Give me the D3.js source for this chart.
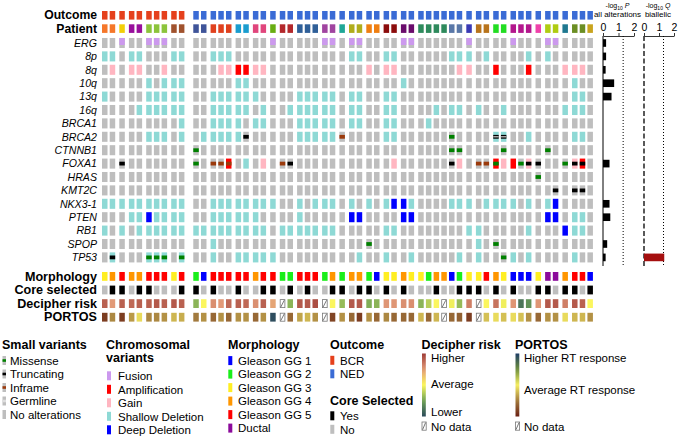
<!DOCTYPE html>
<html><head><meta charset="utf-8">
<script src="https://cdn.jsdelivr.net/npm/d3@7"></script>
<style>body{margin:0;background:#fff} text{font-family:"Liberation Sans",Arial,Helvetica,sans-serif}</style>
</head><body><svg id="c" width="680" height="440"></svg>
<script>
// ---------------- DATA ----------------
const genes = ["ERG","8p","8q","10q","13q","16q","BRCA1","BRCA2","CTNNB1","FOXA1","HRAS","KMT2C","NKX3-1","PTEN","RB1","SPOP","TP53"];
const patientGroupSizes = [2,1,2,3,2, 2,3,2,2,1,2,3,2,1,2,2,2,2,4,2,1,2,2,3,1,2,1,2,1];
const patientOutcome = ["BCR","BCR","BCR","BCR","BCR","NED","NED","NED","NED","NED","NED","NED","NED","NED","NED","NED","NED","NED","NED","NED","NED","NED","NED","NED","NED","NED","NED","NED","NED"];
const patientColors = ["#f5772a","#f2cf08","#980f9c","#8cc43c","#a0522d","#3f5499","#e0411e","#1a9dcf","#e0457c","#68ad12","#b3282b","#2f5f98","#a044a0","#1fa797","#b0ad1c","#ef7f12","#8b0c0c","#6a0c6c","#2e8a5c","#5a78a8","#3a3ab4","#b8741c","#22dd22","#b3178d","#ef42aa","#b0cc12","#1f7890","#6b8e23","#c9a41e"];
// patients drawn adjacent to the previous one (no separating gap)
const joinedPatients = [19, 28];
// CNA / fusion per gene ('.' none, s shallow del, d deep del, a amplification, n gain, f fusion); spaces separate patients
const cnaRows = [
 ".. f .. fff .. .. ... .. .. f .. ... ff . ff .. .. ff .... .. f .. .. f.. . ff . .. .",
 "ss . ss ... ss .. sss .. .. . .. ... .. . ss .. ss .. .... ss s .s .. ..s . s. . .. .",
 ".n . nn ..n .. .. .nn aa nn . .. ... .. . .. n. nn .. .... .n n .. a. ..a . .. n nn .",
 ".. . .. s.s ss .. ... ss .. . .. ... .. . .. .. .. s. .... .. . .. .. ... . .. . s. .",
 "s. . .. sss ss .. sss ss s. . .. sss ss . ss .. ss .. .... .. . .. .. ... . .. . ss .",
 ".. . .s sss ss .. sss ss .s . .s sss ss . ss .. ss .. ..s. ss . s. .s ... . .. s ss .",
 ".. . .. ... .s .. sss s. ss . .. sss ss . ss .. ss .. .s.. .. . .. .. ... . .. . .. .",
 ".. . .. sss .s .s sss s. .. . .. sss ss . .. .. ss .. .... .. . .. ss ..s . .. . ss .",
 ".. . .. ... .. .. ... .. .. . .. ... .. . .. .. .. .. .... .. . .. .. ... . .. . .. .",
 ".. . .. ... .. .. ..a .s .n . .. ... .. . .. .. .n .. .... .n . .. an a.n . .. . na .",
 ".. . .. ... .. .. ... .. .. . .. ... .. . .. .. .. .. .... .. . .. .. ... . .. . .. .",
 ".. . .. ... .. .. ... .. .. . .. ... .. . .. .. .. .. .... .. . .. .. ... . .. . .. .",
 "ss s ss sss ss .. sss ss ss s .. s.s ss . s. s. sd ds .... ss s .s ss s.s . sd . .. .",
 ".. . ss dss ss .. sss ss s. . .. s.. .. . dd .. .. dd .... .. . .. .. ... . dd . ss .",
 "s. s .s sss ss ss sss ss ss . ss sss ss . .. .. ss .. .... .. s s. .. ..s . .. d ss .",
 ".. . .. ... .. .. s.. .. .. . .. ... .. . .. .. .. .. .... .. . s. .. ... . .. . .. .",
 ".s . .. sss .s .. s.. ss ss s .. ... .. . .s .. s. .s .... .s . s. .. s.s . .. . s. ."
];
// small variants ('.' none, m missense, t truncating, i inframe, G germline truncating)
const mutRows = [
 ".. . .. ... .. .. ... .. .. . .. ... .. . .. .. .. .. .... .. . .. .. ... . .. . .. .",
 ".. . .. ... .. .. ... .. .. . .. ... .. . .. .. .. .. .... .. . .. .. ... . .. . .. .",
 ".. . .. ... .. .. ... .. .. . .. ... .. . .. .. .. .. .... .. . .. .. ... . .. . .. .",
 ".. . .. ... .. .. ... .. .. . .. ... .. . .. .. .. .. .... .. . .. .. ... . .. . .. .",
 ".. . .. ... .. .. ... .. .. . .. ... .. . .. .. .. .. .... .. . .. .. ... . .. . .. .",
 ".. . .. ... .. .. ... .. .. . .. ... .. . .. .. .. .. .... .. . .. .. ... . .. . .. .",
 ".. . .. ... .. .. ... .. .. . .. ... .. . .. .. .. .. .... .. . .. .. ... . .. . .. .",
 ".. . .. ... .. .. ... .t .. . .. ... .. i .. .. .. .. .... m. . .. GG ... . .. . .. .",
 ".. . .. ... .. m. ... .. .. . .. ... .. . .. .. .. .. .... mm . .. .m ... . m. . .. .",
 ".. t .. ... .. m. iii .. .. . it ... .. . .. .. .. .. .... t. . ii m. .mt t .. m tt .",
 ".. . .. ... .. .. ... .. .. . .. ... .. . .. .. .. .. .... .. . .. .. ... m .. . .. .",
 ".. . .. ... .. .. ... .. .. . .. ... .. . .. .. .. .. .... .. . .. .. ... . .t . tt .",
 ".. . .. ... .. .. ... .. .. . .. ... .. . .. .. .. .. .... .. . .. .. ... . .. . .. .",
 ".. . .. ... .. .. ... .. .. . .. ... .. . .. .. .. .. .... .. . .. .. ... . .. . .. .",
 ".. . .. ... .. .. ... .. .. . .. ... .. . .. .. .. .. .... .. . .. .. ... . .. . .. .",
 ".. . .. ... .. .. ... .. .. . .. ... .. . .. m. .. .. .... .. . .. m. ... . .. . .. .",
 ".t . .. mmm .m .. ... .. .. . .. ... .. . .. .. .. .. .... .. . .. .m ... . .. . .. ."
];
const morphology = [3,4,5,4,4,5,5,5,3,5, 2,1,5,5,5,5,5,4,5,5,2,2,5,5,5,2,4,2,4,4,2,1,3,3,4,3,3,2,4,4,1,2,3,3,5,4,3,1,1,1,3,6,6,4,5,5,1];
const coreSelected = [0,1,1,0,1,1,0,0,0,1, 1,0,1,0,0,1,0,0,1,1,0,1,0,1,0,0,1,1,0,1,1,0,1,0,1,0,0,0,1,0,0,1,1,1,0,1,0,1,0,0,1,1,0,1,1,0,1];
const decipher = [0.9,0.75,0.9,0.88,0.9,0.9,0.92,0.9,0.92,0.9, 0.3,0.5,0.78,0.75,0.88,0.9,0.88,0.78,0.9,0.72,null,0.3,0.92,0.92,0.95,null,0.5,0.32,0.92,0.92,0.28,0.3,0.76,0.76,0.78,0.78,0.3,0.38,0.5,null,0.48,0.32,0.82,null,0.5,0.85,0.48,0.76,0.12,0.2,0.76,0.92,0.92,0.82,0.92,0.9,0.5];
const portos = [0.08,0.28,0.08,0.32,0.46,0.28,0.28,0.3,0.38,0.36, 0.25,0.3,0.2,0.3,0.2,0.3,0.3,0.2,0.3,0.95,null,0.2,0.34,0.38,0.3,null,0.1,0.3,0.2,0.08,0.3,0.2,0.28,0.2,0.2,0.2,0.38,0.2,0.38,null,0.2,0.18,0.08,null,0.4,0.46,0.4,0.46,0.4,0.3,0.2,0.3,0.3,0.46,0.38,0.38,0.3];
const pAllAlterations = [0.2,0.2,0.17,0.72,0.55,0,0,0,0,0.42,0,0,0.42,0.47,0,0.27,0.17];
const qBiallelic = [0,0,0,0,0,0,0,0,0,0,0,0,0,0,0,0,1.35];
const axisTicks = [0,1,2];
const morphLabels = ["Gleason GG 1","Gleason GG 2","Gleason GG 3","Gleason GG 4","Gleason GG 5","Ductal"];

// ---------------- COLOURS ----------------
const GRAY = "#bebebe";
const cnaColor = {s:"#8ed9d5", d:"#0000ff", a:"#ff0000", n:"#ffb6c1", f:"#cc99ee"};
const mutColor = {m:"#008000", t:"#000000", i:"#9b3a0c", G:"#000000"};
const outcomeColor = {BCR:"#e5401c", NED:"#3a6bd5"};
const morphColors = ["#0000ff","#1aee1a","#ffee22","#ff9600","#ff0000","#8b0a9b"];
const decipherColor = d3.scaleLinear().domain([0,0.25,0.5,0.75,1]).range(["#2b4a5a","#6fa457","#fbf65e","#e29a78","#9e3b36"]);
const portosColor = d3.scaleLinear().domain([0,0.25,0.5,0.75,1]).range(["#6a2013","#a27a3e","#f6ee62","#6e8f3c","#1e3d66"]);

// ---------------- COLUMNS ----------------
const cols = [];
patientGroupSizes.forEach((n,g)=>{ for(let k=0;k<n;k++) cols.push({g, outcome:patientOutcome[g], pcolor:patientColors[g]}); });
let gaps = 0;
cols.forEach((c,i)=>{
  c.i=i;
  if(i>0 && cols[i-1].g!==c.g && !joinedPatients.includes(c.g)) gaps++;
  c.slot = i + gaps*0.247 + (c.outcome==="NED"?0.62:0);
});
const lastSlot = cols[cols.length-1].slot;
const x = d3.scaleLinear().domain([0,lastSlot]).range([102,102+lastSlot*7.7]);
const CW = 5.5;
const y = d3.scaleBand().domain(genes).range([36.3, 36.3+genes.length*13.4]).paddingInner(0.25).paddingOuter(0.125);
const BW = y.bandwidth();

const svg = d3.select("#c");
const clean = s => s.replace(/ /g,"");

// header tracks
const hdr = [{label:"Outcome", y:11, ty:19.3, color:c=>outcomeColor[c.outcome]},{label:"Patient", y:24.3, ty:33, color:c=>c.pcolor}];
hdr.forEach(h=>{
  svg.append("g").selectAll("rect").data(cols).join("rect")
    .attr("x",c=>x(c.slot)).attr("y",h.y).attr("width",CW).attr("height",8.6).attr("fill",h.color);
  svg.append("text").attr("x",97).attr("y",h.ty).attr("text-anchor","end")
    .attr("font-size",12.2).attr("font-weight","bold").text(h.label);
});

// gene rows
genes.forEach((gname,gi)=>{
  const cna = clean(cnaRows[gi]), mut = clean(mutRows[gi]);
  const gy = y(gname);
  const row = svg.append("g");
  row.selectAll("rect.bg").data(cols).join("rect").attr("class","bg")
    .attr("x",c=>x(c.slot)).attr("y",gy).attr("width",CW).attr("height",BW)
    .attr("fill",c=>{const v=cna[c.i]; return (v==="."||v==="f")?GRAY:cnaColor[v];});
  row.selectAll("rect.fu").data(cols.filter(c=>cna[c.i]==="f")).join("rect").attr("class","fu")
    .attr("x",c=>x(c.slot)).attr("y",gy).attr("width",CW).attr("height",BW*0.7).attr("fill",cnaColor.f);
  const muts = cols.filter(c=>mut[c.i]!==".");
  row.selectAll("rect.mu").data(muts).join("rect").attr("class","mu")
    .attr("x",c=>x(c.slot)).attr("y",gy+BW/2-1.9).attr("width",CW).attr("height",3.8)
    .attr("fill",c=>mutColor[mut[c.i]]);
  row.selectAll("rect.gl").data(muts.filter(c=>mut[c.i]==="G")).join("rect").attr("class","gl")
    .attr("x",c=>x(c.slot)).attr("y",gy+BW/2-0.6).attr("width",CW).attr("height",1.2).attr("fill","#cfcfcf");
  svg.append("text").attr("x",97).attr("y",gy+BW/2+3.8).attr("text-anchor","end")
    .attr("font-size",10.6).attr("font-style","italic").text(gname);
});

// bottom tracks
function hatch(g, xx, yy, w, h){
  g.append("rect").attr("x",xx+0.4).attr("y",yy+0.4).attr("width",w-0.8).attr("height",h-0.8).attr("fill","#fff").attr("stroke","#777").attr("stroke-width",0.8);
  g.append("line").attr("x1",xx+1).attr("y1",yy+h-1).attr("x2",xx+w-1).attr("y2",yy+1).attr("stroke","#555").attr("stroke-width",0.8);
}
const bottom = [
  {label:"Morphology", y:272, color:c=>morphColors[morphology[c.i]-1]},
  {label:"Core selected", y:285.6, color:c=>coreSelected[c.i]?"#000":GRAY},
  {label:"Decipher risk", y:299.2, color:c=>decipher[c.i]==null?null:decipherColor(decipher[c.i])},
  {label:"PORTOS", y:312.8, color:c=>portos[c.i]==null?null:portosColor(portos[c.i])}
];
bottom.forEach(b=>{
  const g = svg.append("g");
  g.selectAll("rect").data(cols.filter(c=>b.color(c)!=null)).join("rect")
    .attr("x",c=>x(c.slot)).attr("y",b.y).attr("width",CW).attr("height",8.8).attr("fill",b.color);
  cols.filter(c=>b.color(c)==null).forEach(c=>hatch(g,x(c.slot),b.y,CW,8.8));
  svg.append("text").attr("x",97).attr("y",b.y+8.6).attr("text-anchor","end")
    .attr("font-size",12.6).attr("font-weight","bold").text(b.label);
});

// right-hand bar charts
const xP = d3.scaleLinear().domain([0,2]).range([603,634]);
const xQ = d3.scaleLinear().domain([0,2]).range([644,674]);
[[xP,pAllAlterations,"#000","P","all alterations"],[xQ,qBiallelic,"#a50f0f","Q","biallelic"]].forEach(([sc,vals,col,letter,sub],k)=>{
  const g = svg.append("g");
  const ax = g.append("g").attr("transform","translate(0,36)")
    .call(d3.axisTop(sc).tickValues(axisTicks).tickSize(3).tickSizeOuter(0).tickFormat(d3.format("d")));
  ax.select(".domain").attr("stroke","#000").attr("stroke-width",0.8);
  ax.selectAll(".tick line").attr("stroke","#000").attr("stroke-width",0.8);
  ax.selectAll(".tick text").attr("font-size",10.5).attr("font-family","Liberation Sans, Arial").attr("dy","-0.05em").attr("y",-4);
  g.append("line").attr("x1",sc(0)).attr("x2",sc(0)).attr("y1",36).attr("y2",266)
    .attr("stroke","#000").attr("stroke-width",k?1.3:1).attr("stroke-dasharray",k?"5,2.5":null);
  g.append("line").attr("x1",sc(-Math.log10(0.05))).attr("x2",sc(-Math.log10(0.05))).attr("y1",36).attr("y2",266)
    .attr("stroke","#000").attr("stroke-width",1).attr("stroke-dasharray","1,2");
  g.selectAll("rect").data(genes.map((gn,i)=>({gn,v:vals[i]})).filter(d=>d.v>0)).join("rect")
    .attr("x",sc(0)).attr("y",d=>y(d.gn)+1.2).attr("width",d=>sc(d.v)-sc(0)).attr("height",BW-2.4).attr("fill",col);
  const cx = (sc(0)+sc(2))/2 - 1;
  const t = g.append("text").attr("x",cx).attr("y",8).attr("text-anchor","middle").attr("font-size",7);
  t.append("tspan").text("-log");
  t.append("tspan").attr("font-size",5).attr("dy",1.5).text("10");
  t.append("tspan").attr("dy",-1.5).text(" ");
  t.append("tspan").attr("font-style","italic").text(letter);
  g.append("text").attr("x",cx).attr("y",17).attr("text-anchor","middle").attr("font-size",8).text(sub);
});

// ---------------- LEGEND ----------------
const L = svg.append("g");
function title(xx,yy,txt){ L.append("text").attr("x",xx).attr("y",yy).attr("font-size",12.5).attr("font-weight","bold").text(txt); }
function item(xx,yy,txt){ L.append("text").attr("x",xx).attr("y",yy).attr("font-size",11.5).text(txt); }
title(2,348.5,"Small variants");
const sv = [["Missense",mutColor.m],["Truncating",mutColor.t],["Inframe",mutColor.i],["Germline","#dedede"],["No alterations",null]];
sv.forEach((d,i)=>{
  const yy = 364.5 + i*13.5;
  L.append("rect").attr("x",2.5).attr("y",yy-8.5).attr("width",3.5).attr("height",9).attr("fill",GRAY);
  if(d[1]) L.append("rect").attr("x",2.5).attr("y",yy-5.3).attr("width",3.5).attr("height",2.6).attr("fill",d[1]);
  item(10,yy,d[0]);
});
title(106,348.5,"Chromosomal");
title(106,362,"variants");
const cv = [["Fusion",cnaColor.f],["Amplification",cnaColor.a],["Gain",cnaColor.n],["Shallow Deletion",cnaColor.s],["Deep Deletion",cnaColor.d]];
cv.forEach((d,i)=>{
  const yy = 380 + i*13.5;
  L.append("rect").attr("x",107).attr("y",yy-8.7).attr("width",4).attr("height",9).attr("fill",d[1]);
  item(118,yy,d[0]);
});
title(228,348.5,"Morphology");
morphLabels.forEach((lab,i)=>{
  const yy = 364.8 + i*13.5;
  L.append("rect").attr("x",228.3).attr("y",yy-8.7).attr("width",4).attr("height",9).attr("fill",morphColors[i]);
  item(238,yy,lab);
});
title(330,348.5,"Outcome");
["BCR","NED"].forEach((o,i)=>{
  const yy = 364.5 + i*13.5;
  L.append("rect").attr("x",330.3).attr("y",yy-8.7).attr("width",4).attr("height",9).attr("fill",outcomeColor[o]);
  item(340,yy,o);
});
title(330,404.5,"Core Selected");
[["Yes","#000"],["No",GRAY]].forEach((d,i)=>{
  const yy = 420 + i*13.5;
  L.append("rect").attr("x",330.3).attr("y",yy-8.7).attr("width",4).attr("height",9).attr("fill",d[1]);
  item(340,yy,d[0]);
});
const defs = svg.append("defs");
function grad(id, sc){
  const lg = defs.append("linearGradient").attr("id",id).attr("x1",0).attr("y1",1).attr("x2",0).attr("y2",0);
  d3.range(0,1.001,0.1).forEach(t=>lg.append("stop").attr("offset",t).attr("stop-color",sc(t)));
}
grad("gd",decipherColor); grad("gp",portosColor);
title(421.5,348.5,"Decipher risk");
L.append("rect").attr("x",422).attr("y",353.5).attr("width",3.8).attr("height",63).attr("fill","url(#gd)");
item(431,362.3,"Higher"); item(431,387.5,"Average"); item(431,416,"Lower");
hatch(L,421.6,421.6,5,9); item(431,430.5,"No data");
title(515,348.5,"PORTOS");
L.append("rect").attr("x",515.5).attr("y",353.5).attr("width",3.8).attr("height",63).attr("fill","url(#gp)");
item(524,362.3,"Higher RT response"); item(524,394,"Average RT response");
hatch(L,515,421.6,5,9); item(524,430.5,"No data");
</script></body></html>
